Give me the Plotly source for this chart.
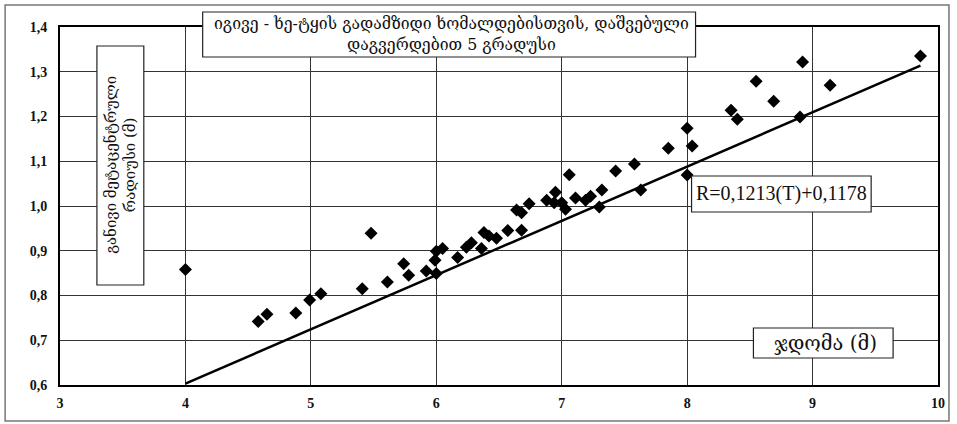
import plotly.graph_objects as go

draft_T = [4.0, 4.58, 4.65, 4.88, 4.99, 5.08, 5.41, 5.48, 5.61, 5.74, 5.78, 5.92, 6.0, 5.99, 6.0,
           6.05, 6.17, 6.24, 6.28, 6.36, 6.38, 6.42, 6.48, 6.57, 6.64, 6.68, 6.68, 6.74, 6.88,
           6.94, 6.95, 7.0, 7.03, 7.06, 7.11, 7.19, 7.23, 7.30, 7.32, 7.43, 7.58, 7.63, 7.85,
           8.0, 8.04, 8.0, 8.35, 8.40, 8.55, 8.69, 8.90, 8.92, 9.14, 9.86]
radius_R = [0.858, 0.742, 0.758, 0.761, 0.790, 0.804, 0.815, 0.939, 0.830, 0.871, 0.845, 0.855,
            0.849, 0.879, 0.899, 0.905, 0.885, 0.908, 0.918, 0.905, 0.941, 0.933, 0.928, 0.945,
            0.991, 0.985, 0.946, 1.005, 1.013, 1.007, 1.031, 1.007, 0.993, 1.070, 1.018, 1.013,
            1.022, 0.998, 1.036, 1.078, 1.094, 1.036, 1.129, 1.174, 1.134, 1.069, 1.214, 1.194,
            1.279, 1.234, 1.199, 1.322, 1.270, 1.335]

fit_slope = 0.1213
fit_intercept = 0.1178
fit_T = [4.0, 9.86]
fit_R = [fit_slope * t + fit_intercept for t in fit_T]

x_ticks = [3, 4, 5, 6, 7, 8, 9, 10]
y_ticks = [0.6, 0.7, 0.8, 0.9, 1.0, 1.1, 1.2, 1.3, 1.4]

title_text = "იგივე - ხე-ტყის გადამზიდი ხომალდებისთვის, დაშვებული<br>დაგვერდებით 5 გრადუსი"
ylabel_text = "განივი მეტაცენტრული<br>რადიუსი (მ)"
eq_text = "R=0,1213(T)+0,1178"
xlabel_text = "ჯდომა (მ)"

# plot area in pixels
L, T, W, H = 60, 27, 880, 358


def px(x):
    return (x - L) / W


def py(y):
    return 1 - (y - T) / H


fig = go.Figure()
fig.add_trace(go.Scatter(x=fit_T, y=fit_R, mode="lines",
                         line=dict(color="black", width=2.5), showlegend=False))
fig.add_trace(go.Scatter(x=draft_T, y=radius_R, mode="markers",
                         marker=dict(symbol="diamond", size=10, color="black"),
                         showlegend=False))

axis_font = dict(family="Liberation Serif", size=14, color="#111", weight="bold")
fig.update_xaxes(range=[3, 10], tickvals=x_ticks, ticktext=[str(v) for v in x_ticks],
                 showgrid=True, gridcolor="#333", gridwidth=1.2,
                 showline=True, linecolor="black", linewidth=2, mirror=True,
                 zeroline=False, ticks="", tickfont=axis_font, ticklabelstandoff=4)
fig.update_yaxes(range=[0.6, 1.4], tickvals=y_ticks, tickformat=".1f",
                 showgrid=True, gridcolor="#333", gridwidth=1.2,
                 showline=True, linecolor="black", linewidth=2, mirror=True,
                 zeroline=False, ticks="", tickfont=axis_font, ticklabelstandoff=8)

geo_font = "DejaVu Serif, Noto Sans, DejaVu Sans"


def box(x0, y0, x1, y1):
    fig.add_shape(type="rect", xref="paper", yref="paper",
                  x0=px(x0), x1=px(x1), y0=py(y1), y1=py(y0),
                  line=dict(color="#222", width=1.2), fillcolor="white", layer="above")


box(203, 12, 697, 57)
box(97, 46, 144, 285)
box(693, 176, 873, 212)
box(755, 328, 895, 358)

fig.add_annotation(xref="paper", yref="paper", x=px(452), y=py(34.5), xanchor="center", yanchor="middle",
                   text=title_text, showarrow=False, align="center",
                   font=dict(family=geo_font, size=15.8, color="#111"))
fig.add_annotation(xref="paper", yref="paper", x=px(121), y=py(165), xanchor="center", yanchor="middle",
                   text=ylabel_text, showarrow=False, textangle=-90, align="center",
                   font=dict(family=geo_font, size=15, color="#111"))
fig.add_annotation(xref="paper", yref="paper", x=px(783), y=py(194), xanchor="center", yanchor="middle",
                   text=eq_text, showarrow=False,
                   font=dict(family="Liberation Serif", size=20, color="#111"))
fig.add_annotation(xref="paper", yref="paper", x=px(827), y=py(343), xanchor="center", yanchor="middle",
                   text=xlabel_text, showarrow=False,
                   font=dict(family=geo_font, size=20, color="#111"))

fig.add_shape(type="rect", xref="paper", yref="paper",
              x0=px(5), x1=px(951), y0=py(421), y1=py(5),
              line=dict(color="#777", width=1.5), layer="below")

fig.update_layout(width=957, height=424, margin=dict(l=L, r=957 - L - W, t=T, b=424 - T - H),
                  plot_bgcolor="white", paper_bgcolor="white", separators=", ")

fig.write_html("out.html", config={"displayModeBar": False},
               post_script="document.body.style.margin='0';")
